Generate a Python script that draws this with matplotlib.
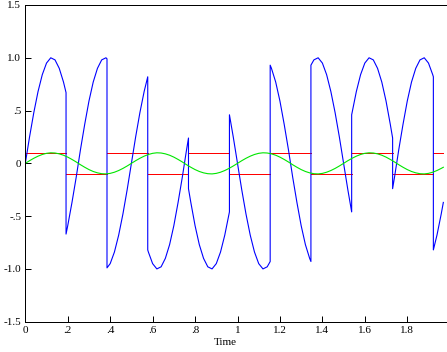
import matplotlib
matplotlib.use('Agg')
import matplotlib.pyplot as plt

plt.rcParams['font.family'] = ['Liberation Serif', 'DejaVu Serif']

# red: bit levels between switch times
red_edges = [0.0, 0.192, 0.385, 0.577, 0.769, 0.962, 1.154, 1.346, 1.538, 1.731, 1.923, 1.97]
red_level = [0.1, -0.1, 0.1, -0.1, 0.1, -0.1, 0.1, -0.1, 0.1, -0.1, 0.1]

# green: small carrier
green_t = [0.00, 0.02, 0.04, 0.06, 0.08, 0.10, 0.12, 0.14, 0.16, 0.18,
           0.20, 0.22, 0.24, 0.26, 0.28, 0.30, 0.32, 0.34, 0.36, 0.38,
           0.40, 0.42, 0.44, 0.46, 0.48, 0.50, 0.52, 0.54, 0.56, 0.58,
           0.60, 0.62, 0.64, 0.66, 0.68, 0.70, 0.72, 0.74, 0.76, 0.78,
           0.80, 0.82, 0.84, 0.86, 0.88, 0.90, 0.92, 0.94, 0.96, 0.98,
           1.00, 1.02, 1.04, 1.06, 1.08, 1.10, 1.12, 1.14, 1.16, 1.18,
           1.20, 1.22, 1.24, 1.26, 1.28, 1.30, 1.32, 1.34, 1.36, 1.38,
           1.40, 1.42, 1.44, 1.46, 1.48, 1.50, 1.52, 1.54, 1.56, 1.58,
           1.60, 1.62, 1.64, 1.66, 1.68, 1.70, 1.72, 1.74, 1.76, 1.78,
           1.80, 1.82, 1.84, 1.86, 1.88, 1.90, 1.92, 1.94, 1.96, 1.97]
green = [0.0, 0.025, 0.048, 0.068, 0.084, 0.095, 0.1, 0.098, 0.09, 0.077,
         0.059, 0.037, 0.013, -0.013, -0.037, -0.059, -0.077, -0.09, -0.098, -0.1,
         -0.095, -0.084, -0.068, -0.048, -0.025, 0.0, 0.025, 0.048, 0.068, 0.084,
         0.095, 0.1, 0.098, 0.09, 0.077, 0.059, 0.037, 0.013, -0.013, -0.037,
         -0.059, -0.077, -0.09, -0.098, -0.1, -0.095, -0.084, -0.068, -0.048, -0.025,
         0.0, 0.025, 0.048, 0.068, 0.084, 0.095, 0.1, 0.098, 0.09, 0.077,
         0.059, 0.037, 0.013, -0.013, -0.037, -0.059, -0.077, -0.09, -0.098, -0.1,
         -0.095, -0.084, -0.068, -0.048, -0.025, 0.0, 0.025, 0.048, 0.068, 0.084,
         0.095, 0.1, 0.098, 0.09, 0.077, 0.059, 0.037, 0.013, -0.013, -0.037,
         -0.059, -0.077, -0.09, -0.098, -0.1, -0.095, -0.084, -0.068, -0.048, -0.037]

# blue: modulated signal, jump points listed twice
blue_t = [0.00, 0.02, 0.04, 0.06, 0.08, 0.10, 0.12, 0.14, 0.16, 0.18, 0.192,
          0.192, 0.20, 0.22, 0.24, 0.26, 0.28, 0.30, 0.32, 0.34, 0.36, 0.38, 0.385,
          0.385, 0.40, 0.42, 0.44, 0.46, 0.48, 0.50, 0.52, 0.54, 0.56, 0.577,
          0.577, 0.58, 0.60, 0.62, 0.64, 0.66, 0.68, 0.70, 0.72, 0.74, 0.76, 0.769,
          0.769, 0.78, 0.80, 0.82, 0.84, 0.86, 0.88, 0.90, 0.92, 0.94, 0.96, 0.962,
          0.962, 0.98, 1.00, 1.02, 1.04, 1.06, 1.08, 1.10, 1.12, 1.14, 1.154,
          1.154, 1.16, 1.18, 1.20, 1.22, 1.24, 1.26, 1.28, 1.30, 1.32, 1.34, 1.346,
          1.346, 1.36, 1.38, 1.40, 1.42, 1.44, 1.46, 1.48, 1.50, 1.52, 1.538,
          1.538, 1.54, 1.56, 1.58, 1.60, 1.62, 1.64, 1.66, 1.68, 1.70, 1.72, 1.731,
          1.731, 1.74, 1.76, 1.78, 1.80, 1.82, 1.84, 1.86, 1.88, 1.90, 1.92, 1.923,
          1.923, 1.94, 1.96, 1.97]
blue = [0.00, 0.25, 0.48, 0.68, 0.84, 0.95, 1.00, 0.98, 0.90, 0.77, 0.67,
        -0.67, -0.59, -0.37, -0.13, 0.13, 0.37, 0.59, 0.77, 0.90, 0.98, 1.00, 0.99,
        -0.99, -0.95, -0.84, -0.68, -0.48, -0.25, 0.00, 0.25, 0.48, 0.68, 0.82,
        -0.82, -0.84, -0.95, -1.00, -0.98, -0.90, -0.77, -0.59, -0.37, -0.13, 0.13, 0.24,
        -0.24, -0.37, -0.59, -0.77, -0.90, -0.98, -1.00, -0.95, -0.84, -0.68, -0.48, -0.46,
        0.46, 0.25, 0.00, -0.25, -0.48, -0.68, -0.84, -0.95, -1.00, -0.98, -0.93,
        0.93, 0.90, 0.77, 0.59, 0.37, 0.13, -0.13, -0.37, -0.59, -0.77, -0.90, -0.93,
        0.93, 0.98, 1.00, 0.95, 0.84, 0.68, 0.48, 0.25, 0.00, -0.25, -0.46,
        0.46, 0.48, 0.68, 0.84, 0.95, 1.00, 0.98, 0.90, 0.77, 0.59, 0.37, 0.24,
        -0.24, -0.13, 0.13, 0.37, 0.59, 0.77, 0.90, 0.98, 1.00, 0.95, 0.84, 0.82,
        -0.82, -0.68, -0.48, -0.37]

xticks = [0, 0.2, 0.4, 0.6, 0.8, 1.0, 1.2, 1.4, 1.6, 1.8]
xlabels = ['0', '.2', '.4', '.6', '.8', '1', '1.2', '1.4', '1.6', '1.8']
yticks = [-1.5, -1.0, -0.5, 0, 0.5, 1.0, 1.5]
ylabels = ['-1.5', '-1.0', '-.5', '0', '.5', '1.0', '1.5']

fig = plt.figure(figsize=(4.47, 3.52), dpi=100)
ax = fig.add_axes([25.3 / 447, 30.3 / 352, 424.4 / 447, 316.7 / 352])

ax.hlines(red_level, red_edges[:-1], red_edges[1:], color='#ff0000', linewidth=0.72, antialiased=False)
ax.plot(blue_t, blue, color='#0000ff', linewidth=0.8)
ax.plot(green_t, green, color='#00e600', linewidth=0.8)

ax.set_xlim(0, 2)
ax.set_ylim(-1.5, 1.5)
ax.set_xticks(xticks)
ax.set_xticklabels(xlabels)
ax.set_yticks(yticks)
ax.set_yticklabels(ylabels)
ax.tick_params(direction='in', length=4.5, width=0.72, labelsize=8, pad=3, colors='black')
for s in ax.spines.values():
    s.set_linewidth(0.72)

ax.set_xlabel('Time', fontsize=8)
ax.xaxis.set_label_coords(0.4705, -0.052)

fig.savefig('out.png', dpi=100)
